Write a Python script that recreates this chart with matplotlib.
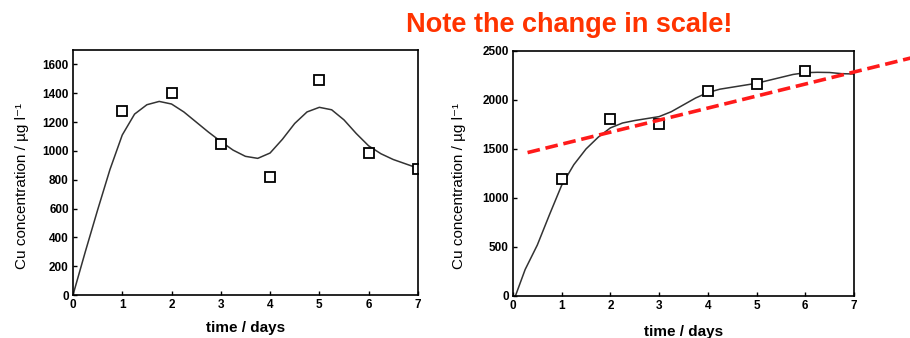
import numpy as np
import matplotlib.pyplot as plt

plt.rcParams['font.family'] = ['Liberation Sans', 'DejaVu Sans']

# --- dati pannello sinistro ---
giorni = [1, 2, 3, 4, 5, 6, 7]
cu_sx = [1275, 1403, 1050, 816, 1489, 986, 877]
curva_sx_x = [0, 0.25, 0.5, 0.75, 1.0, 1.25, 1.5, 1.75, 2.0, 2.25, 2.5, 2.75, 3.0, 3.25,
              3.5, 3.75, 4.0, 4.25, 4.5, 4.75, 5.0, 5.25, 5.5, 5.75, 6.0, 6.25, 6.5,
              6.75, 7.0]
curva_sx_y = [0, 300, 590, 870, 1110, 1255, 1320, 1343, 1325, 1270, 1200, 1130, 1065,
              1005, 962, 948, 985, 1080, 1190, 1270, 1302, 1285, 1215, 1120, 1035, 980,
              940, 910, 880]

# --- dati pannello destro ---
giorni_dx = [1, 2, 3, 4, 5, 6]
cu_dx = [1194, 1806, 1755, 2092, 2160, 2299]
curva_dx_x = [0.05, 0.25, 0.5, 0.75, 1.0, 1.25, 1.5, 1.75, 2.0, 2.25, 2.5, 2.75, 3.0,
              3.25, 3.5, 3.75, 4.0, 4.25, 4.5, 4.75, 5.0, 5.25, 5.5, 5.75, 6.0, 6.25,
              6.5, 6.75, 7.0]
curva_dx_y = [0, 270, 520, 830, 1130, 1340, 1500, 1620, 1715, 1765, 1790, 1810, 1830,
              1880, 1950, 2020, 2075, 2110, 2130, 2150, 2170, 2200, 2230, 2260, 2278,
              2282, 2280, 2268, 2265]
# retta tratteggiata rossa
retta_x = [0.3, 8.2]
retta_y = [1463, 2432]

fig = plt.figure(figsize=(9.1, 3.38), dpi=100)
ax1 = fig.add_axes([0.0802, 0.1272, 0.379, 0.725])
ax2 = fig.add_axes([0.5637, 0.1243, 0.3747, 0.725])

linea = dict(color='#333333', linewidth=1.1)
quadrati = dict(linestyle='none', marker='s', markersize=6.5, markerfacecolor='white',
                markeredgecolor='black', markeredgewidth=1.3)

ax1.plot(curva_sx_x, curva_sx_y, **linea)
ax1.plot(giorni, cu_sx, **quadrati)
ax1.set_xlim(0, 7)
ax1.set_ylim(0, 1700)
ax1.set_yticks(np.arange(0, 1601, 200))

ax2.plot(curva_dx_x, curva_dx_y, **linea)
ax2.plot(giorni_dx, cu_dx, **quadrati)
ax2.plot(retta_x, retta_y, color='#ff1a1a', linewidth=2.6, dashes=(3.5, 1.6),
         clip_on=False, zorder=5)
ax2.set_xlim(0, 7)
ax2.set_ylim(0, 2500)
ax2.set_yticks(np.arange(0, 2501, 500))

for ax in (ax1, ax2):
    ax.set_xticks(range(0, 8))
    ax.tick_params(direction='in', length=3, width=1, labelsize=8.5, pad=3)
    for lab in ax.get_xticklabels() + ax.get_yticklabels():
        lab.set_fontweight('bold')
    for s in ax.spines.values():
        s.set_linewidth(1.2)
    ax.set_xlabel('time / days', fontsize=11, fontweight='bold')
    ax.set_ylabel('Cu concentration / µg l⁻¹', fontsize=11)

ax1.yaxis.set_label_coords(-0.128, 0.445)
ax2.yaxis.set_label_coords(-0.138, 0.449)
ax1.xaxis.set_label_coords(0.5, -0.108)
ax2.xaxis.set_label_coords(0.5, -0.12)

fig.text(0.626, 0.925, 'Note the change in scale!', color='#ff3300', fontsize=19.5,
         fontweight='bold', ha='center', va='center')

fig.savefig('out.png', dpi=100, facecolor='white')
